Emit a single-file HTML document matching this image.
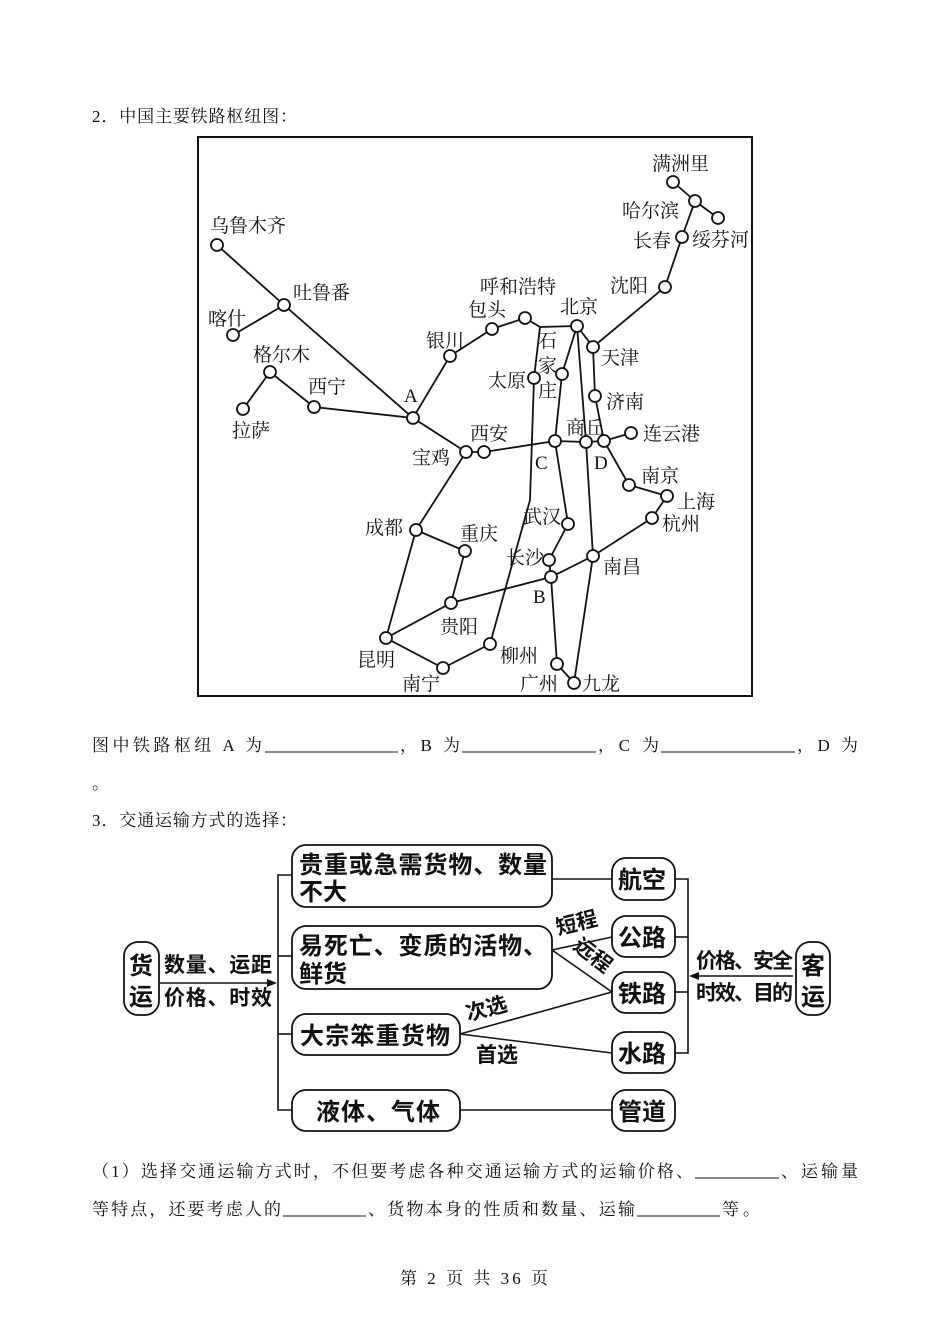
<!DOCTYPE html>
<html><head><meta charset="utf-8"><style>
html,body{margin:0;padding:0;background:#fff}
svg{display:block}
.b{font-family:"Liberation Serif","Noto Serif CJK SC",serif;font-size:17px;fill:#111}
.m{font-family:"Liberation Serif","Noto Serif CJK SC",serif;font-size:19px;fill:#111}
.f{font-family:"Liberation Sans","Noto Sans CJK SC",sans-serif;font-size:24px;font-weight:bold;fill:#111}
.s{font-family:"Liberation Sans","Noto Sans CJK SC",sans-serif;font-size:21px;font-weight:bold;fill:#111}
</style></head><body>
<svg width="950" height="1344" viewBox="0 0 950 1344" xmlns="http://www.w3.org/2000/svg">
<text class="b" x="92" y="122" textLength="205" lengthAdjust="spacing">2．中国主要铁路枢纽图：</text>
<rect x="198" y="137" width="554" height="559" fill="none" stroke="#111" stroke-width="2"/>
<g stroke="#111" stroke-width="1.8" fill="none">
<polyline points="217,245 284,305 413,418 466,452"/>
<line x1="233" y1="335" x2="284" y2="305"/>
<polyline points="243,409 270,372 314,407 413,418"/>
<polyline points="413,418 450,356 492,329 525,318 540,327 577,326"/>
<polyline points="540,327 534,378 530,500 490,644"/>
<polyline points="577,326 562,374 555,441 568,524 549,560 551,577 557,664"/>
<polyline points="577,326 593,347 595,396 604,441 629,485 667,496 652,518 593,556 551,577 451,603 386,638"/>
<polyline points="577,326 586,442 593,556 574,683"/>
<line x1="557" y1="664" x2="574" y2="683"/>
<polyline points="466,452 484,452 555,441 586,442 604,441 631,433"/>
<polyline points="466,452 416,530 386,638 443,668 490,644"/>
<polyline points="416,530 465,551 451,603"/>
<polyline points="593,347 665,287 682,237 695,201 673,182"/>
<line x1="695" y1="201" x2="718" y2="218"/>
</g>
<g stroke="#111" stroke-width="1.8" fill="#fff">
<circle cx="217" cy="245" r="6"/><circle cx="284" cy="305" r="6"/><circle cx="233" cy="335" r="6"/>
<circle cx="270" cy="372" r="6"/><circle cx="243" cy="409" r="6"/><circle cx="314" cy="407" r="6"/>
<circle cx="413" cy="418" r="6"/><circle cx="450" cy="356" r="6"/><circle cx="492" cy="329" r="6"/>
<circle cx="525" cy="318" r="6"/><circle cx="577" cy="326" r="6"/><circle cx="534" cy="378" r="6"/>
<circle cx="562" cy="374" r="6"/><circle cx="593" cy="347" r="6"/><circle cx="595" cy="396" r="6"/>
<circle cx="665" cy="287" r="6"/><circle cx="682" cy="237" r="6"/><circle cx="695" cy="201" r="6"/>
<circle cx="673" cy="182" r="6"/><circle cx="718" cy="218" r="6"/>
<circle cx="466" cy="452" r="6"/><circle cx="484" cy="452" r="6"/><circle cx="555" cy="441" r="6"/>
<circle cx="586" cy="442" r="6"/><circle cx="604" cy="441" r="6"/><circle cx="631" cy="433" r="6"/>
<circle cx="629" cy="485" r="6"/><circle cx="667" cy="496" r="6"/><circle cx="652" cy="518" r="6"/>
<circle cx="568" cy="524" r="6"/><circle cx="549" cy="560" r="6"/><circle cx="551" cy="577" r="6"/>
<circle cx="593" cy="556" r="6"/><circle cx="416" cy="530" r="6"/><circle cx="465" cy="551" r="6"/>
<circle cx="451" cy="603" r="6"/><circle cx="386" cy="638" r="6"/><circle cx="443" cy="668" r="6"/>
<circle cx="490" cy="644" r="6"/><circle cx="557" cy="664" r="6"/><circle cx="574" cy="683" r="6"/>
</g>
<g class="m">
<text x="210" y="232">乌鲁木齐</text><text x="293" y="299">吐鲁番</text><text x="208" y="325">喀什</text>
<text x="253" y="361">格尔木</text><text x="308" y="393">西宁</text><text x="232" y="437">拉萨</text>
<text x="404" y="402">A</text><text x="426" y="347">银川</text><text x="468" y="316">包头</text>
<text x="480" y="293">呼和浩特</text><text x="560" y="313">北京</text>
<text x="538" y="347">石</text><text x="538" y="372">家</text><text x="538" y="397">庄</text>
<text x="488" y="387">太原</text><text x="601" y="364">天津</text><text x="606" y="408">济南</text>
<text x="610" y="292">沈阳</text><text x="633" y="247">长春</text><text x="622" y="217">哈尔滨</text>
<text x="652" y="170">满洲里</text><text x="692" y="246">绥芬河</text>
<text x="470" y="440">西安</text><text x="412" y="464">宝鸡</text><text x="566" y="434">商丘</text>
<text x="643" y="440">连云港</text><text x="535" y="469">C</text><text x="594" y="469">D</text>
<text x="641" y="482">南京</text><text x="677" y="508">上海</text><text x="662" y="530">杭州</text>
<text x="523" y="523">武汉</text><text x="506" y="564">长沙</text><text x="603" y="573">南昌</text>
<text x="533" y="603">B</text><text x="365" y="534">成都</text><text x="460" y="540">重庆</text>
<text x="440" y="633">贵阳</text><text x="357" y="666">昆明</text><text x="402" y="690">南宁</text>
<text x="500" y="662">柳州</text><text x="520" y="690">广州</text><text x="582" y="690">九龙</text>
</g>
<text class="b" x="92" y="751" textLength="170" lengthAdjust="spacing">图中铁路枢纽 A 为</text>
<line x1="265" y1="752" x2="398" y2="752" stroke="#111" stroke-width="1"/>
<text class="b" x="400" y="751" textLength="60" lengthAdjust="spacing">，B 为</text>
<line x1="462" y1="752" x2="596" y2="752" stroke="#111" stroke-width="1"/>
<text class="b" x="598" y="751" textLength="61" lengthAdjust="spacing">，C 为</text>
<line x1="661" y1="752" x2="795" y2="752" stroke="#111" stroke-width="1"/>
<text class="b" x="797" y="751" textLength="61" lengthAdjust="spacing">，D 为</text>
<text class="b" x="92" y="789">。</text>
<text class="b" x="92" y="826" textLength="205" lengthAdjust="spacing">3．交通运输方式的选择：</text>

<g stroke="#111" stroke-width="1.8" fill="#fff">
<rect x="124" y="942" width="35" height="73" rx="14"/>
<rect x="292" y="845" width="260" height="62" rx="14"/>
<rect x="292" y="926" width="260" height="63" rx="14"/>
<rect x="292" y="1014" width="168" height="41" rx="14"/>
<rect x="292" y="1090" width="168" height="41" rx="14"/>
<rect x="612" y="858" width="63" height="42" rx="14"/>
<rect x="612" y="916" width="63" height="41" rx="14"/>
<rect x="612" y="972" width="63" height="41" rx="14"/>
<rect x="612" y="1032" width="63" height="41" rx="14"/>
<rect x="612" y="1090" width="63" height="41" rx="14"/>
<rect x="796" y="942" width="34" height="73" rx="14"/>
</g>
<g stroke="#111" stroke-width="1.6" fill="none">
<line x1="160" y1="983" x2="270" y2="983"/>
<polyline points="292,875 278,875 278,1110 292,1110"/>
<line x1="278" y1="956" x2="292" y2="956"/>
<line x1="278" y1="1034" x2="292" y2="1034"/>
<line x1="552" y1="879" x2="612" y2="879"/>
<line x1="552" y1="950" x2="612" y2="937"/>
<line x1="552" y1="950" x2="612" y2="992"/>
<line x1="460" y1="1034" x2="612" y2="992"/>
<line x1="460" y1="1034" x2="612" y2="1053"/>
<line x1="460" y1="1110" x2="612" y2="1110"/>
<polyline points="675,879 688,879 688,1053 675,1053"/>
<line x1="675" y1="937" x2="688" y2="937"/>
<line x1="675" y1="992" x2="688" y2="992"/>
<line x1="793" y1="976" x2="696" y2="976"/>
</g>
<polygon points="277,983 267,979 267,987" fill="#111"/>
<polygon points="689,976 699,972 699,980" fill="#111"/>
<g class="f">
<text x="129" y="974">货</text><text x="129" y="1005">运</text>
<text x="801" y="974">客</text><text x="801" y="1005">运</text>
<text x="299" y="873" textLength="248" lengthAdjust="spacing">贵重或急需货物、数量</text><text x="299" y="900">不大</text>
<text x="299" y="954" textLength="248" lengthAdjust="spacing">易死亡、变质的活物、</text><text x="299" y="982">鲜货</text>
<text x="300" y="1044" textLength="150" lengthAdjust="spacing">大宗笨重货物</text>
<text x="316" y="1120" textLength="124" lengthAdjust="spacing">液体、气体</text>
<text x="618" y="888">航空</text><text x="618" y="946">公路</text><text x="618" y="1002">铁路</text>
<text x="618" y="1062">水路</text><text x="618" y="1120">管道</text>
</g>
<g class="s">
<text x="164" y="972" textLength="108" lengthAdjust="spacing">数量、运距</text><text x="164" y="1005" textLength="108" lengthAdjust="spacing">价格、时效</text>
<text x="696" y="968" textLength="97" lengthAdjust="spacing">价格、安全</text><text x="696" y="1000" textLength="97" lengthAdjust="spacing">时效、目的</text>
<text x="558" y="935" transform="rotate(-14 558 935)">短程</text>
<text x="572" y="948" transform="rotate(38 572 948)">远程</text>
<text x="468" y="1021" transform="rotate(-15 468 1021)">次选</text>
<text x="476" y="1062">首选</text>
</g>

<text class="b" x="92" y="1177" textLength="601" lengthAdjust="spacing">（1）选择交通运输方式时，不但要考虑各种交通运输方式的运输价格、</text>
<line x1="695" y1="1178" x2="779" y2="1178" stroke="#111" stroke-width="1"/>
<text class="b" x="781" y="1177" textLength="77" lengthAdjust="spacing">、运输量</text>
<text class="b" x="92" y="1215" textLength="189" lengthAdjust="spacing">等特点，还要考虑人的</text>
<line x1="283" y1="1216" x2="366" y2="1216" stroke="#111" stroke-width="1"/>
<text class="b" x="368" y="1215" textLength="267" lengthAdjust="spacing">、货物本身的性质和数量、运输</text>
<line x1="637" y1="1216" x2="720" y2="1216" stroke="#111" stroke-width="1"/>
<text class="b" x="722" y="1215" textLength="38" lengthAdjust="spacing">等。</text>
<text class="b" x="400" y="1284" textLength="148" lengthAdjust="spacing">第 2 页 共 36 页</text>
</svg>
</body></html>
